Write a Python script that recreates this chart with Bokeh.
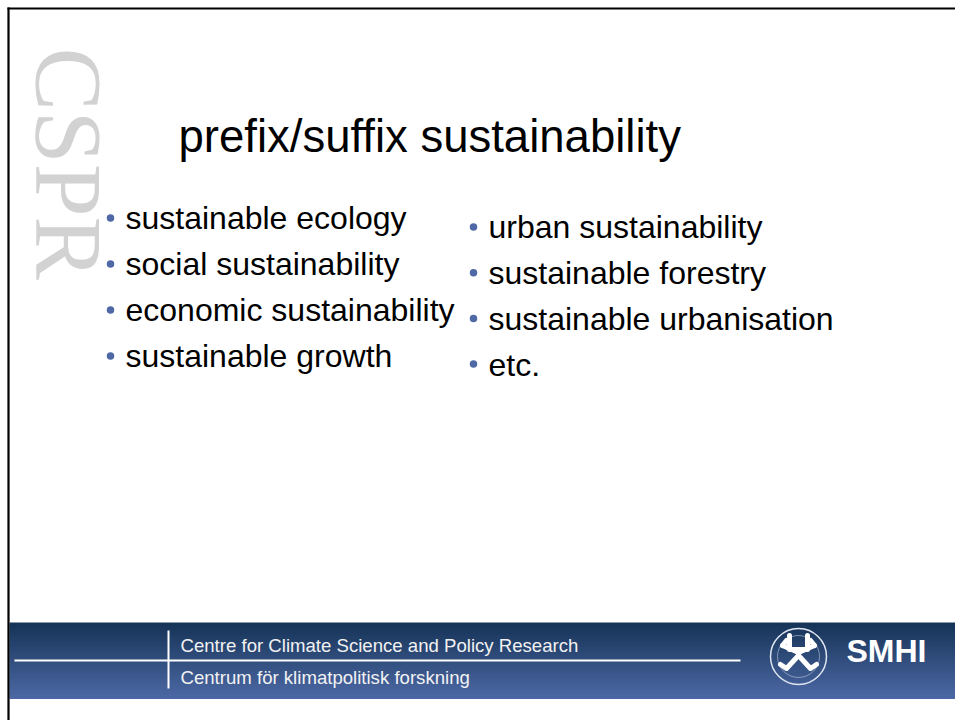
import math
from bokeh.plotting import figure
from bokeh.models import Range1d
from bokeh.core.properties import value
from bokeh.embed import file_html
from bokeh.resources import INLINE

# ---- content ----
title = "prefix/suffix sustainability"
left_items = ["sustainable ecology", "social sustainability",
              "economic sustainability", "sustainable growth"]
right_items = ["urban sustainability", "sustainable forestry",
               "sustainable urbanisation", "etc."]
watermark = "CSPR"
footer_lines = ["Centre for Climate Science and Policy Research",
                "Centrum för klimatpolitisk forskning"]
logo_text = "SMHI"

# ---- figure in picture-pixel coordinates ----
W, H = 955, 720
p = figure(width=W, height=H, x_range=Range1d(0, W), y_range=Range1d(H, 0),
           output_backend="svg", toolbar_location=None, min_border=0,
           x_axis_type=None, y_axis_type=None)
p.grid.visible = False
p.outline_line_color = None
p.background_fill_color = "white"
p.border_fill_color = "white"

MID = 0.3465  # baseline offset of a middle-anchored line, in em


def font_px(s):
    return "%gpx" % s


# footer band (vertical gradient)
top_c = (0x16, 0x34, 0x58)
bot_c = (0x4c, 0x68, 0xa4)
band_top, band_bot = 622, 698
n = 38
step = (band_bot - band_top) / n
lefts, rights, tops, bots, cols = [], [], [], [], []
for i in range(n):
    t = i / (n - 1)
    c = tuple(int(round(a + (b - a) * t)) for a, b in zip(top_c, bot_c))
    lefts.append(9); rights.append(W + 20)
    tops.append(band_top + i * step); bots.append(band_top + (i + 1) * step + 0.5)
    cols.append("#%02x%02x%02x" % c)
p.quad(left=lefts, right=rights, top=tops, bottom=bots, fill_color=cols, line_color=None)

# slide border (top and left)
p.segment(x0=[7, 8], y0=[8, 7], x1=[W + 20, 8], y1=[8, H + 20], line_color="black", line_width=2.2)

# watermark
wm_size = 95
p.text(x=[67], y=[47], text=[watermark], angle=-math.pi / 2,
       text_font=value("Liberation Serif"), text_font_size=font_px(wm_size),
       text_color="#d2d2d2", text_baseline="middle", text_align="left")

# title
t_size = 45.5
p.text(x=[178], y=[152 - MID * t_size], text=[title], text_font=value("Liberation Sans"),
       text_font_size=font_px(t_size), text_color="black", text_baseline="middle")

# bullet lists
b_size = 32
bullet_color = "#4f68a6"
lx_b, lx_t = 110, 125
rx_b, rx_t = 473, 488
ly = [229 + 46 * i for i in range(len(left_items))]
ry = [238 + 45.7 * i for i in range(len(right_items))]
p.text(x=[lx_t] * len(left_items), y=[v - MID * b_size for v in ly], text=left_items,
       text_font=value("Liberation Sans"), text_font_size=font_px(b_size),
       text_color="black", text_baseline="middle")
p.text(x=[rx_t] * len(right_items), y=[v - MID * b_size for v in ry], text=right_items,
       text_font=value("Liberation Sans"), text_font_size=font_px(b_size),
       text_color="black", text_baseline="middle")
p.scatter(x=[lx_b] * len(left_items), y=[v - 11.5 for v in ly], size=7.5,
          fill_color=bullet_color, line_color=None)
p.scatter(x=[rx_b] * len(right_items), y=[v - 11.5 for v in ry], size=7.5,
          fill_color=bullet_color, line_color=None)

# footer rules
p.segment(x0=[14, 168], y0=[660, 630], x1=[740, 168], y1=[660, 688],
          line_color="white", line_width=2)

# footer text
f_size = 18.6
p.text(x=[180, 180], y=[651 - MID * f_size, 683 - MID * f_size], text=footer_lines,
       text_font=value("Liberation Sans"), text_font_size=font_px(f_size),
       text_color="#f2f2f2", text_baseline="middle")

# LiU emblem (approximation)
cx, cy = 798, 656
p.circle(x=[cx], y=[cy], radius=28, fill_color=None, line_color="#dfe5f0", line_width=1.5)
p.circle(x=[cx], y=[cy], radius=21, fill_color=None, line_color="#c5cfe2", line_width=0.8,
         line_alpha=0.7)
p.multi_line(
    xs=[[789, 789, 807, 807], [798, 782], [798, 814], [798, 786, 780], [798, 810, 816],
        [782, 786], [814, 810]],
    ys=[[635, 649, 649, 635], [652, 645], [652, 645], [655, 668, 664], [655, 668, 664],
        [645, 640], [645, 640]],
    line_color="white", line_width=5, line_cap="round", line_join="round")

# SMHI
s_size = 32
p.text(x=[846], y=[662 - MID * s_size], text=[logo_text], text_font=value("Liberation Sans"),
       text_font_style="bold", text_font_size=font_px(s_size), text_color="white",
       text_baseline="middle")

open("out.html", "w").write(file_html(p, INLINE))
